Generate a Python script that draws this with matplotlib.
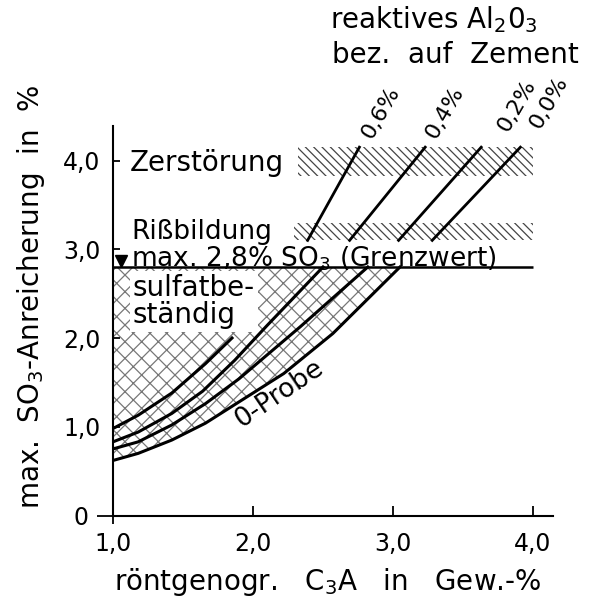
import matplotlib
matplotlib.use('Agg')
import matplotlib.pyplot as plt

# ======================
# DATA
# ======================

# lower, curved part of each line (x = C3A %, y = SO3 %)
c06_x = [1.0, 1.18, 1.42, 1.66, 1.85]
c06_y = [0.98, 1.13, 1.38, 1.71, 2.0]
c04_x = [1.0, 1.18, 1.42, 1.64, 1.87, 2.10, 2.50]
c04_y = [0.83, 0.94, 1.15, 1.40, 1.75, 2.14, 2.8]
c02_x = [1.0, 1.18, 1.42, 1.66, 1.90, 2.34, 2.82]
c02_y = [0.75, 0.83, 1.02, 1.26, 1.54, 2.13, 2.8]
c00_x = [1.0, 1.18, 1.42, 1.66, 2.01, 2.22, 2.57, 3.05]
c00_y = [0.62, 0.70, 0.85, 1.04, 1.39, 1.60, 2.05, 2.8]

# upper, straight part: C3A at band bottom (3.1) and band top (4.15)
upper_x0 = [2.39, 2.69, 3.04, 3.28]
upper_x1 = [2.76, 3.23, 3.63, 3.91]
upper_y0 = 3.1
upper_y1 = 4.15

series_labels = ['0,6%', '0,4%', '0,2%', '0,0%']

# damage bands
band_names = ['Zerstörung', 'Rißbildung']
band_lo = [3.83, 3.10]
band_hi = [4.15, 3.30]
band_x0 = [2.32, 2.29]
band_x1 = 4.0

grenzwert = 2.8

xticks = [2.0, 3.0, 4.0]
xtick_labels = ['2,0', '3,0', '4,0']
yticks = [1.0, 2.0, 3.0, 4.0]
ytick_labels = ['1,0', '2,0', '3,0', '4,0']

# ======================
# STYLE
# ======================
plt.rcParams['font.family'] = 'DejaVu Sans'
plt.rcParams['mathtext.default'] = 'regular'
plt.rcParams['hatch.linewidth'] = 0.9
FS = 20
TFS = 17

fig = plt.figure(figsize=(6.04, 5.98), dpi=100)
ax = fig.add_axes([113 / 604, 1 - 515.5 / 598, 440 / 604, 390 / 598])
ax.set_xlim(1.0, 1.0 + 440 / 140)
ax.set_ylim(0, 390 / 88.75)

for s in ['top', 'right']:
    ax.spines[s].set_visible(False)
for s in ['left', 'bottom']:
    ax.spines[s].set_linewidth(1.5)

# ticks: major ticks point inward, the origin ticks outward
ax.set_xticks(xticks, xtick_labels)
ax.set_yticks(yticks, ytick_labels)
ax.set_xticks([1.0], ['1,0'], minor=True)
ax.set_yticks([0.0], ['0'], minor=True)
ax.tick_params(axis='x', which='major', direction='in', length=7, width=1.3, pad=12, labelsize=TFS)
ax.tick_params(axis='x', which='minor', direction='out', length=6, width=1.3, pad=6, labelsize=TFS)
ax.tick_params(axis='y', which='major', direction='in', length=5, width=1.3, pad=9, labelsize=TFS)
ax.tick_params(axis='y', which='minor', direction='out', length=11.5, width=1.3, pad=6, labelsize=TFS)

# hatched damage bands
for lo, hi, x0 in zip(band_lo, band_hi, band_x0):
    ax.fill_between([x0, band_x1], lo, hi, facecolor='none', edgecolor='#444444',
                    hatch='\\\\\\\\', linewidth=0, zorder=1)

# sulfate resistant zone (cross hatched)
ax.fill_between(c00_x, c00_y, grenzwert, facecolor='none', edgecolor='#777777',
                hatch='xx', linewidth=0, zorder=1)

# curves
for xs, ys in [(c06_x, c06_y), (c04_x, c04_y), (c02_x, c02_y), (c00_x, c00_y)]:
    ax.plot(xs, ys, color='black', lw=2.2, solid_joinstyle='round', zorder=3)

label_offsets = [(11.5, 3.6), (10, 3.6), (21.5, 8.6), (16.5, 11)]
for x0, x1, lab, off in zip(upper_x0, upper_x1, series_labels, label_offsets):
    ax.plot([x0, x1], [upper_y0, upper_y1], color='black', lw=2.0, zorder=3)
    ax.annotate(lab, (x1, upper_y1), xytext=off, textcoords='offset points',
                rotation=60, rotation_mode='anchor', ha='left', va='bottom', fontsize=16)

# limit line
ax.hlines(grenzwert, 1.0, 4.0, color='black', lw=1.8, zorder=3)
ax.plot(1.06, grenzwert + 0.07, marker='v', ms=8, color='black', zorder=4, clip_on=False)

# texts
ax.text(1.12, 3.97, band_names[0], fontsize=FS, va='center', ha='left')
ax.text(1.13, 3.12, band_names[1], fontsize=19, va='baseline', ha='left')
ax.text(1.13, 2.81, 'max. 2,8% SO$_3$ (Grenzwert)', fontsize=19, va='baseline', ha='left')
ax.text(1.14, 2.41, 'sulfatbe-\nständig', fontsize=FS, va='center', ha='left',
        linespacing=0.95, bbox=dict(facecolor='white', edgecolor='none', pad=2), zorder=2)
ax.text(2.19, 1.37, '0-Probe', fontsize=19, rotation=34, ha='center', va='center')

fig.text(330 / 604, 1 - 28 / 598, 'reaktives Al$_2$0$_3$', fontsize=FS, ha='left', va='baseline')
fig.text(332 / 604, 1 - 63 / 598, 'bez.  auf  Zement', fontsize=FS, ha='left', va='baseline')
fig.text(31 / 604, 1 - 297 / 598, 'max.  SO$_3$-Anreicherung  in  %', fontsize=FS,
         rotation=90, ha='center', va='center')
fig.text(328 / 604, 1 - 590 / 598, 'röntgenogr.   C$_3$A   in   Gew.-%', fontsize=FS,
         ha='center', va='baseline')

fig.savefig('out.png', dpi=100)
